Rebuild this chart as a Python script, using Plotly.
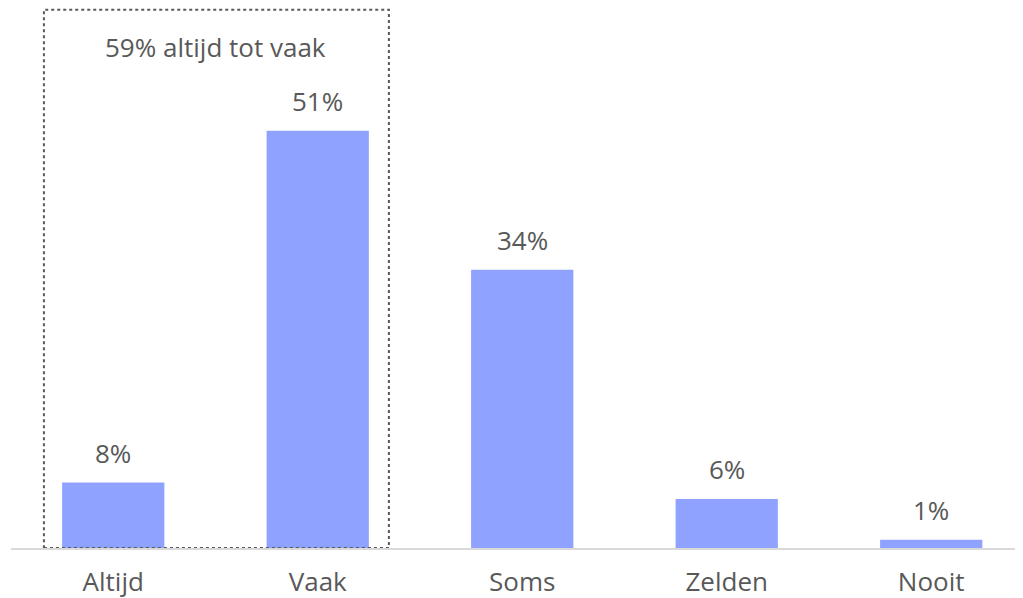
import plotly.graph_objects as go

categories = ["Altijd", "Vaak", "Soms", "Zelden", "Nooit"]
values = [8, 51, 34, 6, 1]
labels = ["8%", "51%", "34%", "6%", "1%"]
box_label = "59% altijd tot vaak"

bar_color = "#8FA2FF"
text_color = "#595959"
font_family = "'Open Sans', sans-serif"

fig = go.Figure()
fig.add_trace(go.Bar(
    x=categories, y=values,
    marker=dict(color=bar_color, line=dict(width=0)),
    width=0.5,
))

# value labels above bars
for c, v, t in zip(categories, values, labels):
    fig.add_annotation(x=c, y=v, text=t, showarrow=False, yanchor="bottom",
                       yshift=10,
                       font=dict(size=26, color=text_color, family=font_family))

# dotted box around the first two categories
fig.add_shape(type="rect", xref="x", yref="y",
              x0=-0.339, x1=1.348, y0=0, y1=65.8,
              line=dict(color="#595959", width=2, dash="dot"), layer="above")
fig.add_annotation(x=0.5, y=61.2, xref="x", yref="y", text=box_label,
                   showarrow=False,
                   font=dict(size=26, color=text_color, family=font_family))

fig.update_layout(
    width=1023, height=598,
    margin=dict(l=3, r=0, t=0, b=58),
    plot_bgcolor="white", paper_bgcolor="white",
    showlegend=False,
    xaxis=dict(range=[-0.5, 4.488], showgrid=False, showline=True,
               linecolor="#d9d9d9", linewidth=2, ticks="",
               ticklabelstandoff=10,
               tickfont=dict(size=26, color=text_color, family=font_family)),
    yaxis=dict(range=[0, 66], visible=False, showgrid=False),
)

fig.write_html("out.html")
